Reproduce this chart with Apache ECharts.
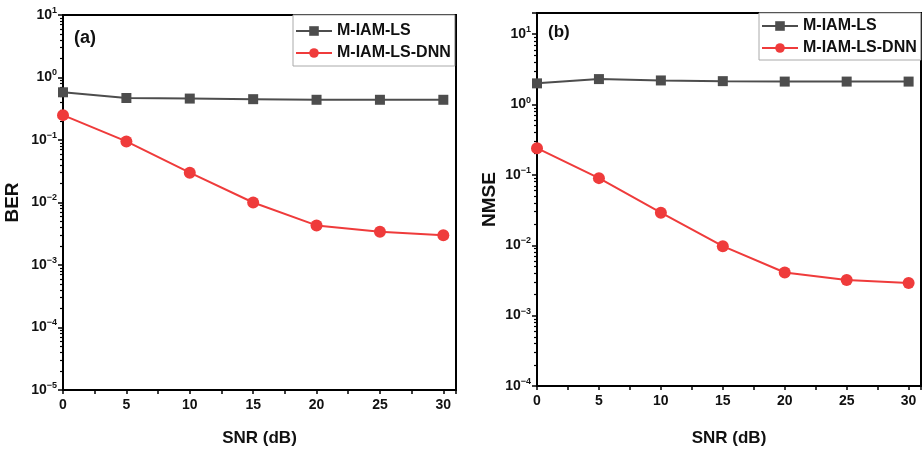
<!DOCTYPE html>
<html><head><meta charset="utf-8">
<script src="https://cdn.jsdelivr.net/npm/echarts@6/dist/echarts.min.js"></script>
<style>html,body{margin:0;padding:0;background:#fff}#c{width:924px;height:452px}</style>
</head><body><div id="c"></div>
<script>
const snr = [0, 5, 10, 15, 20, 25, 30];
const berLS = [0.58, 0.47, 0.46, 0.45, 0.44, 0.44, 0.44];
const berDNN = [0.25, 0.095, 0.030, 0.010, 0.0043, 0.0034, 0.0030];
const nmseLS = [2.0, 2.3, 2.2, 2.15, 2.12, 2.12, 2.12];
const nmseDNN = [0.24, 0.090, 0.029, 0.0097, 0.0041, 0.0032, 0.0029];
const names = ['M-IAM-LS', 'M-IAM-LS-DNN'];
const FONT = '"Liberation Sans", Arial, sans-serif';
const GRAY = '#4d4d4d', RED = '#ef3b3b';

function pairs(xs, ys) { return xs.map((x, i) => [x, ys[i]]); }
function logFmt(v) {
  const l = Math.log10(v), e = Math.round(l);
  if (Math.abs(l - e) > 1e-6) return '';
  return '10{sup|' + (e < 0 ? '\u2212' + (-e) : e) + '}';
}
function minorVals(min, max) {
  const out = [];
  for (let e = Math.floor(Math.log10(min)); e <= Math.ceil(Math.log10(max)); e++) {
    for (let m = 2; m <= 9; m++) {
      const v = m * Math.pow(10, e);
      if (v > min && v < max) out.push(v);
    }
  }
  return out;
}
function yAxis(idx, min, max, name, gap) {
  return {
    type: 'log', logBase: 10, gridIndex: idx, min: min, max: max, position: 'left',
    name: name, nameLocation: 'middle', nameGap: gap, nameRotate: 90,
    nameTextStyle: { fontFamily: FONT, fontWeight: 'bold', fontSize: 19, color: '#111' },
    axisLine: { show: true, lineStyle: { color: '#000', width: 2 } },
    axisTick: { show: true, inside: false, length: 5, lineStyle: { color: '#000', width: 1.5 } },
    splitLine: { show: false },
    axisLabel: {
      formatter: logFmt, fontFamily: FONT, fontWeight: 'bold', fontSize: 14, color: '#111', margin: 6,
      rich: { sup: { fontSize: 9, fontWeight: 'bold', fontFamily: FONT, color: '#111', verticalAlign: 'top', padding: [0, 0, 9, 0] } }
    }
  };
}
function yMinor(idx, min, max) {
  return {
    type: 'log', logBase: 10, gridIndex: idx, min: min, max: max, position: 'left', offset: 0,
    axisLine: { show: false },
    axisTick: { show: true, inside: false, length: 3, customValues: minorVals(min, max), lineStyle: { color: '#000', width: 1.2 } },
    axisLabel: { show: false }, splitLine: { show: false }
  };
}
function xAxis(idx, gap) {
  return {
    type: 'value', gridIndex: idx, min: 0, max: 31, interval: 5,
    name: 'SNR (dB)', nameLocation: 'middle', nameGap: gap,
    nameTextStyle: { fontFamily: FONT, fontWeight: 'bold', fontSize: 17, color: '#111' },
    axisLine: { show: true, lineStyle: { color: '#000', width: 2 } },
    axisTick: { show: true, length: 4, lineStyle: { color: '#000', width: 1.5 } },
    minorTick: { show: true, splitNumber: 2, length: 4, lineStyle: { color: '#000', width: 1.5 } },
    splitLine: { show: false },
    axisLabel: {
      formatter: v => (v % 5 === 0 ? String(v) : ''), showMaxLabel: true,
      fontFamily: FONT, fontWeight: 'bold', fontSize: 14, color: '#111', margin: 8
    }
  };
}
function series(name, idx, ys, color, sym, size) {
  return {
    name: name, type: 'line', xAxisIndex: idx, yAxisIndex: idx, data: pairs(snr, ys),
    symbol: sym, symbolSize: size, showSymbol: true,
    lineStyle: { color: color, width: 2 }, itemStyle: { color: color }, z: 3
  };
}
function legend(left, top, w, pad) {
  return {
    data: names, orient: 'vertical', left: left, top: top, width: w,
    backgroundColor: '#fff', borderColor: '#aaa', borderWidth: 1, padding: pad,
    itemWidth: 36, itemHeight: 12, itemGap: 6, selectedMode: false,
    textStyle: { fontFamily: FONT, fontWeight: 'bold', fontSize: 16, color: '#111' }
  };
}
const chart = echarts.init(document.getElementById('c'), null, { renderer: 'canvas' });
chart.setOption({
  animation: false,
  backgroundColor: '#fff',
  grid: [
    { left: 63, top: 15, width: 393, height: 377, show: true, borderColor: '#000', borderWidth: 2, containLabel: false },
    { left: 537, top: 13, width: 384, height: 377, show: true, borderColor: '#000', borderWidth: 2, containLabel: false }
  ],
  xAxis: [xAxis(0, 40), xAxis(1, 44)],
  yAxis: [yAxis(0, 1e-5, 10, 'BER', 41), yAxis(1, 1e-4, 20, 'NMSE', 38), yMinor(0, 1e-5, 10), yMinor(1, 1e-4, 20)],
  legend: [legend(293, 15, 162, [8, 4, 5, 2]), legend(759, 13, 162, [5, 4, 4, 2])],
  series: [
    series(names[0], 0, berLS, GRAY, 'rect', 10),
    series(names[1], 0, berDNN, RED, 'circle', 12),
    series(names[0], 1, nmseLS, GRAY, 'rect', 10),
    series(names[1], 1, nmseDNN, RED, 'circle', 12)
  ],
  graphic: [
    { type: 'text', left: 74, top: 29, style: { text: '(a)', font: 'bold 18px ' + FONT, fill: '#111' } },
    { type: 'text', left: 548, top: 24, style: { text: '(b)', font: 'bold 17px ' + FONT, fill: '#111' } }
  ]
});
</script></body></html>
